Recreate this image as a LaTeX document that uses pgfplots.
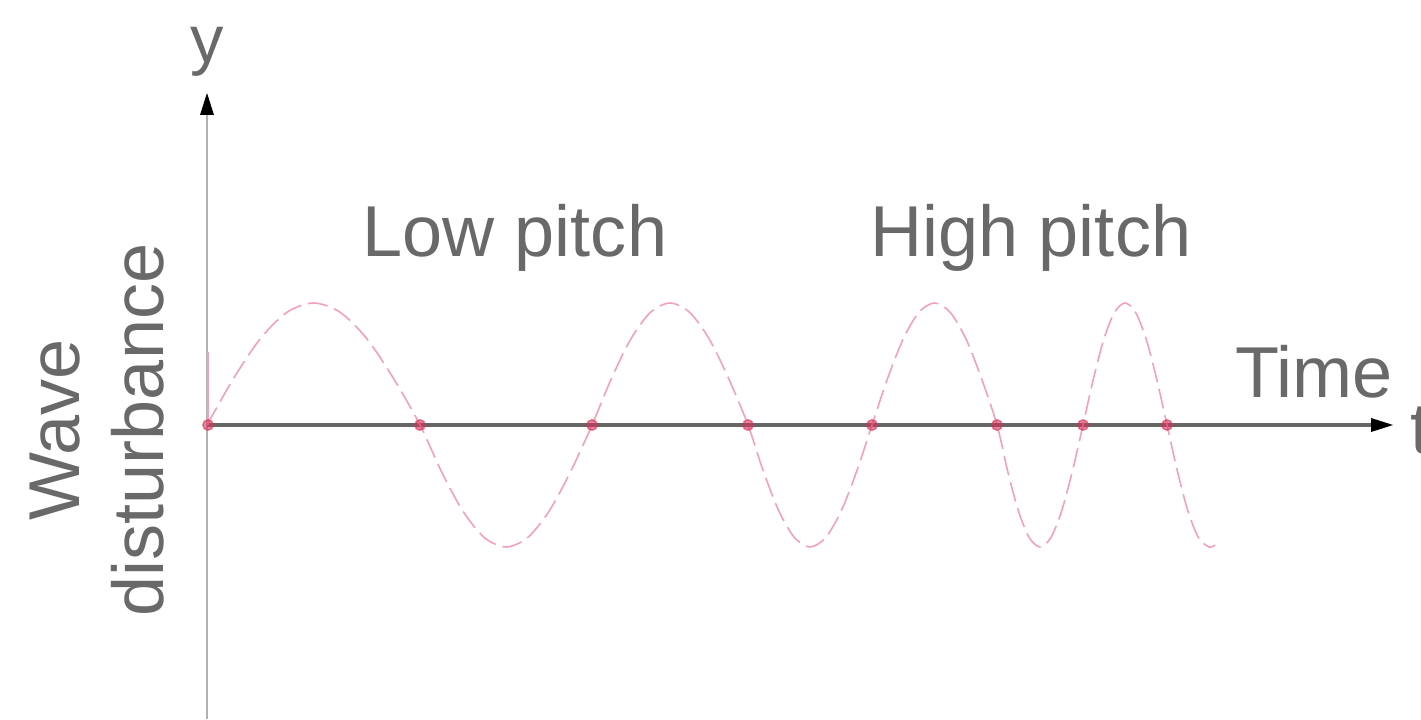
\documentclass[border=0pt]{standalone}
\usepackage{fontspec}
\setmainfont{Liberation Sans}
\usepackage{pgfplots}
\pgfplotsset{compat=1.18}
\usetikzlibrary{arrows.meta}

\definecolor{wave}{RGB}{244,160,182}
\definecolor{zero}{RGB}{215,50,90}
\definecolor{txt}{RGB}{105,105,105}

\begin{document}
\begin{tikzpicture}
\begin{axis}[
    name=ax,
    width=14.21cm, height=7.19cm, scale only axis,
    xmin=0, xmax=1421, ymin=0, ymax=719,
    y dir=reverse,
    hide axis, clip=false,
]
% axes (pixel coordinates)
\draw[line width=0.2mm, black!30] (axis cs:207,719) -- (axis cs:207,112);
\fill[black] (axis cs:207,93) -- (axis cs:200,115) -- (axis cs:214,115) -- cycle;
\draw[line width=0.4mm, black!60] (axis cs:207,425) -- (axis cs:1375,425);
\fill[black] (axis cs:1393,425) -- (axis cs:1371,418) -- (axis cs:1371,432) -- cycle;

% the wave
\addplot[wave, line width=0.45pt, smooth, dash pattern=on 2mm off 0.7mm] coordinates {
 (207,425) (233.6,378.3) (260.3,338.7) (286.9,312.3) (313.5,303) (340.1,312.3) (366.8,338.7) (393.4,378.3)
 (420,425) (441.5,471.7) (463,511.3) (484.5,537.7) (506,547) (527.5,537.7) (549,511.3) (570.5,471.7)
 (592,425) (611.5,378.3) (631,338.7) (650.5,312.3) (670,303) (689.5,312.3) (709,338.7) (728.5,378.3)
 (748,425) (763.5,471.7) (779,511.3) (794.5,537.7) (810,547) (825.5,537.7) (841,511.3) (856.5,471.7)
 (872,425) (887.6,378.3) (903.3,338.7) (918.9,312.3) (934.5,303) (950.1,312.3) (965.8,338.7) (981.4,378.3)
 (997,425) (1007.75,471.7) (1018.5,511.3) (1029.25,537.7) (1040,547) (1050.75,537.7) (1061.5,511.3) (1072.25,471.7)
 (1083,425) (1093.5,378.3) (1104,338.7) (1114.5,312.3) (1125,303) (1135.5,312.3) (1146,338.7) (1156.5,378.3)
 (1167,425) (1177.5,471.7) (1188,511.3) (1198.5,537.7) (1209,547) (1215,545)
};
% small lead-in stroke on the y axis
\addplot[wave, line width=0.8pt] coordinates {(208,425) (208,352)};

% zero crossings
\addplot[only marks, mark=*, mark size=1.5pt, zero, opacity=0.6] coordinates {
 (208,425) (420,425) (592,425) (748,425) (872,425) (997,425) (1083,425) (1167,425)
};

% labels
\node[txt, font=\fontsize{19}{24}\selectfont] at (axis cs:207,52) {y};
\node[txt, font=\fontsize{20.5}{24}\selectfont] at (axis cs:515,238) {Low pitch};
\node[txt, font=\fontsize{20.5}{24}\selectfont] at (axis cs:1031,238) {High pitch};
\node[txt, font=\fontsize{20.5}{24}\selectfont] at (axis cs:1314,372) {Time};
\node[txt, font=\fontsize{20.5}{24}\selectfont, anchor=west] at (axis cs:1398,430) {t};
\node[txt, font=\fontsize{20.5}{24}\selectfont, rotate=90, align=center] at (axis cs:97,430)
    {Wave\\disturbance};
\end{axis}
\pgfresetboundingbox
\useasboundingbox (ax.south west) rectangle (ax.north east);
\end{tikzpicture}
\end{document}
